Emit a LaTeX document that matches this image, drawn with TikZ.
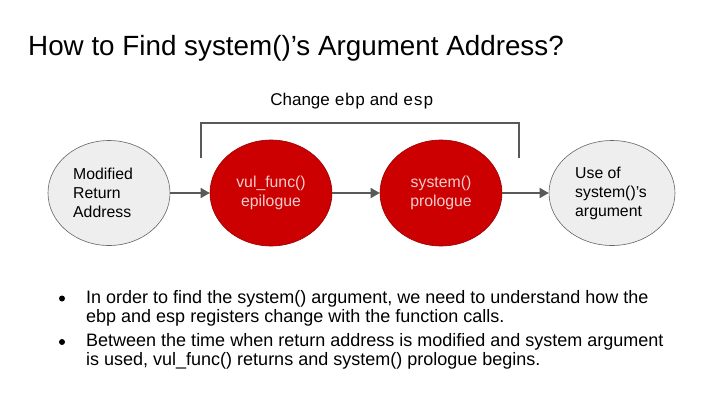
\documentclass[tikz,border=0pt]{standalone}
\usepackage{fontspec}
\setmainfont{Liberation Sans}
\setmonofont{Liberation Mono}
\usetikzlibrary{arrows.meta}
\definecolor{redfill}{HTML}{CC0000}
\definecolor{redline}{HTML}{990000}
\definecolor{grayfill}{HTML}{EEEEEE}
\definecolor{grayline}{HTML}{666666}
\definecolor{arrowcol}{HTML}{595959}
\definecolor{pinktext}{HTML}{F4CCCC}
\tikzset{
  grayell/.style={draw=grayline, fill=grayfill, ellipse, minimum width=122pt, minimum height=105pt, inner sep=0pt, line width=0.6pt},
  redell/.style={draw=redline, fill=redfill, ellipse, minimum width=122pt, minimum height=106pt, inner sep=0pt, line width=0.6pt},
  flowarrow/.style={draw=arrowcol, line width=1.6pt, -{Triangle[length=9pt,width=10pt]}},
  bracketline/.style={draw=arrowcol, line width=1.6pt},
  ellfont/.style={font=\fontsize{15.8}{19}\selectfont},
  bulletfont/.style={font=\fontsize{18}{19}\selectfont},
}
\usetikzlibrary{shapes.geometric}
\begin{document}
\begin{tikzpicture}[x=1pt,y=-1pt]
\useasboundingbox (0,0) rectangle (720,405);
\fill[white] (0,0) rectangle (720,405);
% title
\node[anchor=west, inner sep=0pt, font=\fontsize{27.8}{32}\selectfont] (title) at (28,48) {How to Find system()’s Argument Address?};
% ellipses
\node[grayell] (e1) at (109,193) {};
\node[ellfont, align=left, anchor=west, inner sep=0pt] (t1) at (73,193) {Modified\\Return\\Address};
\node[redell] (e2) at (271,193) {};
\node[ellfont, align=center, text=pinktext, inner sep=0pt] (t2) at (271,193) {vul\_func()\\epilogue};
\node[redell] (e3) at (441,193) {};
\node[ellfont, align=center, text=pinktext, inner sep=0pt] (t3) at (441,193) {system()\\prologue};
\node[grayell, minimum width=126pt] (e4) at (612,193) {};
\node[ellfont, align=left, anchor=west, inner sep=0pt] (t4) at (575,193) {Use of\\system()’s\\argument};
% arrows
\draw[flowarrow] (e1.east) -- (e2.west);
\draw[flowarrow] (e2.east) -- (e3.west);
\draw[flowarrow] (e3.east) -- (e4.west);
% bracket
\coordinate (bl) at (201,158);
\coordinate (br) at (519,158);
\draw[bracketline] (bl) -- (201,123) -- (519,123) -- (br);
\node[inner sep=0pt, font=\fontsize{17}{19}\selectfont] (chg) at (352,101) {Change {\ttfamily ebp} and {\ttfamily esp}};
% bullets
\node[anchor=west, inner sep=0pt, align=left, bulletfont] (b1) at (86,308) {In order to find the system() argument, we need to understand how the\\ebp and esp registers change with the function calls.};
\node[anchor=west, inner sep=0pt, align=left, bulletfont] (b2) at (86,351.5) {Between the time when return address is modified and system argument\\is used, vul\_func() returns and system() prologue begins.};
\fill[black] (62,298.5) circle (3pt);
\fill[black] (62,342) circle (3pt);
\end{tikzpicture}
\end{document}
